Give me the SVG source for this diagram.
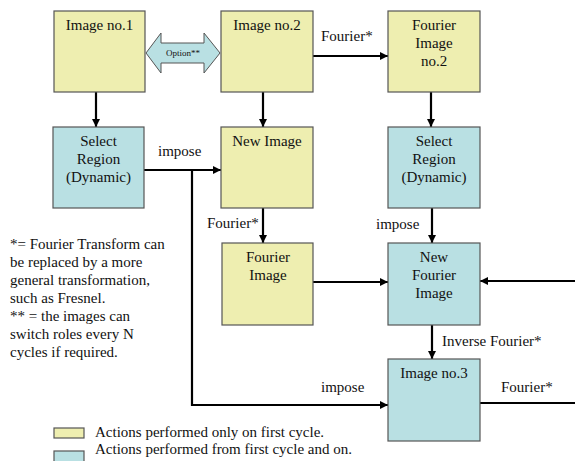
<svg xmlns="http://www.w3.org/2000/svg" width="575" height="461" viewBox="0 0 575 461">
  <defs>
    <marker id="head" viewBox="0 0 10 10" refX="10" refY="5" markerWidth="3.8" markerHeight="3.8" markerUnits="strokeWidth" orient="auto">
      <path d="M0,0 L10,5 L0,10 Z" fill="#000"/>
    </marker>
    <style>
      .once { fill: #eeeeb0; stroke: #555; stroke-width: 1.2; }
      .loop { fill: #b9e0e3; stroke: #555; stroke-width: 1.2; }
      text { fill: #111; font-family: Liberation Serif, DejaVu Serif, serif; font-size: 15px; }
      .c { text-anchor: middle; }
      .wire { fill: none; stroke: #000; stroke-width: 2.2; }
      .arrow { marker-end: url(#head); }
    </style>
  </defs>

  <rect width="575" height="461" fill="#fff"/>

  <!-- connectors -->
  <g id="connectors">
    <line class="wire arrow" x1="96" y1="92" x2="96" y2="127"/>
    <line class="wire arrow" x1="263" y1="92" x2="263" y2="127"/>
    <line class="wire arrow" x1="431" y1="92" x2="431" y2="127"/>
    <line class="wire arrow" x1="313" y1="56" x2="388" y2="56"/>
    <line class="wire arrow" x1="144" y1="170" x2="221" y2="170"/>
    <polyline class="wire arrow" points="192,170 192,405 388,405"/>
    <line class="wire arrow" x1="263" y1="208" x2="263" y2="243"/>
    <line class="wire arrow" x1="432" y1="208" x2="432" y2="243"/>
    <line class="wire arrow" x1="313" y1="282" x2="388" y2="282"/>
    <line class="wire arrow" x1="575" y1="281" x2="480" y2="281"/>
    <line class="wire arrow" x1="432" y1="325" x2="432" y2="359"/>
    <line class="wire" x1="480" y1="403" x2="575" y2="403"/>

    <text x="321" y="41">Fourier*</text>
    <text x="158" y="156">impose</text>
    <text x="376" y="229">impose</text>
    <text x="207" y="228">Fourier*</text>
    <text x="442" y="346">Inverse Fourier*</text>
    <text x="321" y="392">impose</text>
    <text x="501" y="392">Fourier*</text>
  </g>

  <!-- two-way swap arrow between the source images -->
  <g id="option">
    <path d="M146,53 L161,33 L161,43 L204,43 L204,33 L220,53 L204,73 L204,63 L161,63 L161,73 Z" fill="#b9e0e3" stroke="#555" stroke-width="1"/>
    <text x="183" y="56" class="c" style="font-size:9px">Option**</text>
  </g>

  <g id="image1">
    <rect class="once" x="54" y="11" width="91" height="81"/>
    <text x="99.5" y="30" class="c">Image no.1</text>
  </g>
  <g id="image2">
    <rect class="once" x="221" y="11" width="92" height="81"/>
    <text x="267" y="30" class="c">Image no.2</text>
  </g>
  <g id="fourier-image2">
    <rect class="once" x="388" y="11" width="92" height="81"/>
    <text x="434" y="30" class="c">Fourier</text>
    <text x="434" y="48" class="c">Image</text>
    <text x="434" y="66" class="c">no.2</text>
  </g>
  <g id="select-region1">
    <rect class="loop" x="53" y="127" width="91" height="81"/>
    <text x="98.5" y="146" class="c">Select</text>
    <text x="98.5" y="164" class="c">Region</text>
    <text x="98.5" y="182" class="c">(Dynamic)</text>
  </g>
  <g id="new-image">
    <rect class="once" x="221" y="127" width="92" height="81"/>
    <text x="267" y="146" class="c">New Image</text>
  </g>
  <g id="select-region2">
    <rect class="loop" x="388" y="127" width="92" height="81"/>
    <text x="434" y="146" class="c">Select</text>
    <text x="434" y="164" class="c">Region</text>
    <text x="434" y="182" class="c">(Dynamic)</text>
  </g>
  <g id="fourier-image">
    <rect class="once" x="222" y="243" width="91" height="82"/>
    <text x="268" y="262" class="c">Fourier</text>
    <text x="268" y="280" class="c">Image</text>
  </g>
  <g id="new-fourier-image">
    <rect class="loop" x="388" y="243" width="92" height="82"/>
    <text x="434" y="262" class="c">New</text>
    <text x="434" y="280" class="c">Fourier</text>
    <text x="434" y="298" class="c">Image</text>
  </g>
  <g id="image3">
    <rect class="loop" x="388" y="359" width="92" height="82"/>
    <text x="434" y="378" class="c">Image no.3</text>
  </g>

  <!-- footnotes -->
  <g id="notes">
    <text x="10" y="249">*= Fourier Transform can</text>
    <text x="10" y="267">be replaced by a more</text>
    <text x="10" y="285">general transformation,</text>
    <text x="10" y="303">such as Fresnel.</text>
    <text x="10" y="321">** = the images can</text>
    <text x="10" y="339">switch roles every N</text>
    <text x="10" y="357">cycles if required.</text>
  </g>

  <!-- legend -->
  <g id="legend">
    <rect class="once" x="54" y="428" width="30" height="10"/>
    <text x="95" y="437">Actions performed only on first cycle.</text>
    <rect class="loop" x="54" y="451" width="30" height="12"/>
    <text x="95" y="454">Actions performed from first cycle and on.</text>
  </g>
</svg>
